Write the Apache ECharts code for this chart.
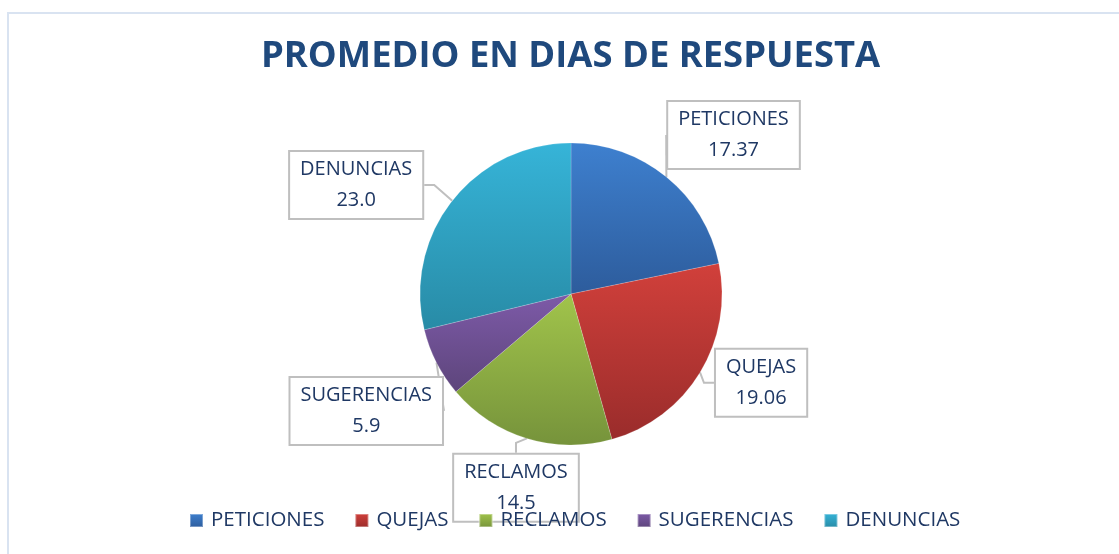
<!DOCTYPE html>
<html>
<head>
<meta charset="utf-8">
<script src="https://cdn.jsdelivr.net/npm/echarts@6/dist/echarts.min.js"></script>
<style>
  html, body { margin: 0; padding: 0; background: #fff; }
  #main { width: 1119px; height: 554px; }
</style>
</head>
<body>
<div id="main"></div>
<script>
var categories = ['PETICIONES', 'QUEJAS', 'RECLAMOS', 'SUGERENCIAS', 'DENUNCIAS'];
var values = [17.37, 19.06, 14.5, 5.9, 23.0];
var valueLabels = ['17.37', '19.06', '14.5', '5.9', '23.0'];
// top / bottom shades of each slice (excel style gradient)
var topColors = ['#3e80cf', '#d1403b', '#a1c44b', '#7d5aa8', '#36b4d8'];
var bottomColors = ['#2d5c9c', '#9a2c2b', '#76933b', '#5d457b', '#288ba6'];
// nudges of the callout boxes from their default place, [dx, dy]
var labelNudge = [[-20, -31], [-9, 3], [68, 36], [31, 42], [-6, -7]];

var chart = echarts.init(document.getElementById('main'));

var pieData = categories.map(function (name, i) {
  return {
    name: name,
    value: values[i],
    itemStyle: {
      color: new echarts.graphic.LinearGradient(0, 0, 0, 1, [
        { offset: 0, color: topColors[i] },
        { offset: 1, color: bottomColors[i] }
      ])
    }
  };
});

var option = {
  backgroundColor: '#ffffff',
  animation: false,
  graphic: [{
    type: 'rect',
    shape: { x: 8, y: 13, width: 1130, height: 560 },
    style: { fill: 'none', stroke: '#d9e3f1', lineWidth: 2 }
  }],
  title: {
    text: 'PROMEDIO EN DIAS DE RESPUESTA',
    left: 256,
    top: 34,
    textStyle: {
      fontFamily: 'Open Sans',
      fontWeight: 'bold',
      fontSize: 36.4,
      color: '#1f497d'
    }
  },
  legend: {
    bottom: 18,
    left: 184,
    itemWidth: 13,
    itemHeight: 13,
    itemGap: 30,
    icon: 'rect',
    textStyle: {
      fontFamily: 'Open Sans',
      fontSize: 20.5,
      color: '#1f3864',
      padding: [0, 0, 0, 3]
    },
    data: categories
  },
  series: [{
    type: 'pie',
    center: [571, 294],
    radius: 151,
    startAngle: 90,
    clockwise: true,
    data: pieData,
    itemStyle: { borderColor: 'rgba(255,255,255,0.35)', borderWidth: 0.5 },
    label: {
      show: true,
      position: 'outside',
      formatter: function (p) {
        return '{t|' + p.name + '}\n{t|' + valueLabels[p.dataIndex] + '}';
      },
      rich: {
        t: {
          fontFamily: 'Open Sans',
          fontSize: 20,
          lineHeight: 31,
          color: '#1f3864',
          align: 'center'
        }
      },
      backgroundColor: '#ffffff',
      borderColor: '#bfbfbf',
      borderWidth: 2,
      padding: [2, 10]
    },
    labelLine: {
      show: true,
      length: 14,
      length2: 10,
      lineStyle: { color: '#bfbfbf', width: 2 }
    },
    labelLayout: function (p) {
      var n = labelNudge[p.dataIndex];
      var r = p.labelRect;
      var x = p.align === 'right' ? r.x + r.width : (p.align === 'center' ? r.x + r.width / 2 : r.x);
      return { x: x + n[0], y: r.y + r.height / 2 + n[1] };
    }
  }]
};

chart.setOption(option);
</script>
</body>
</html>
